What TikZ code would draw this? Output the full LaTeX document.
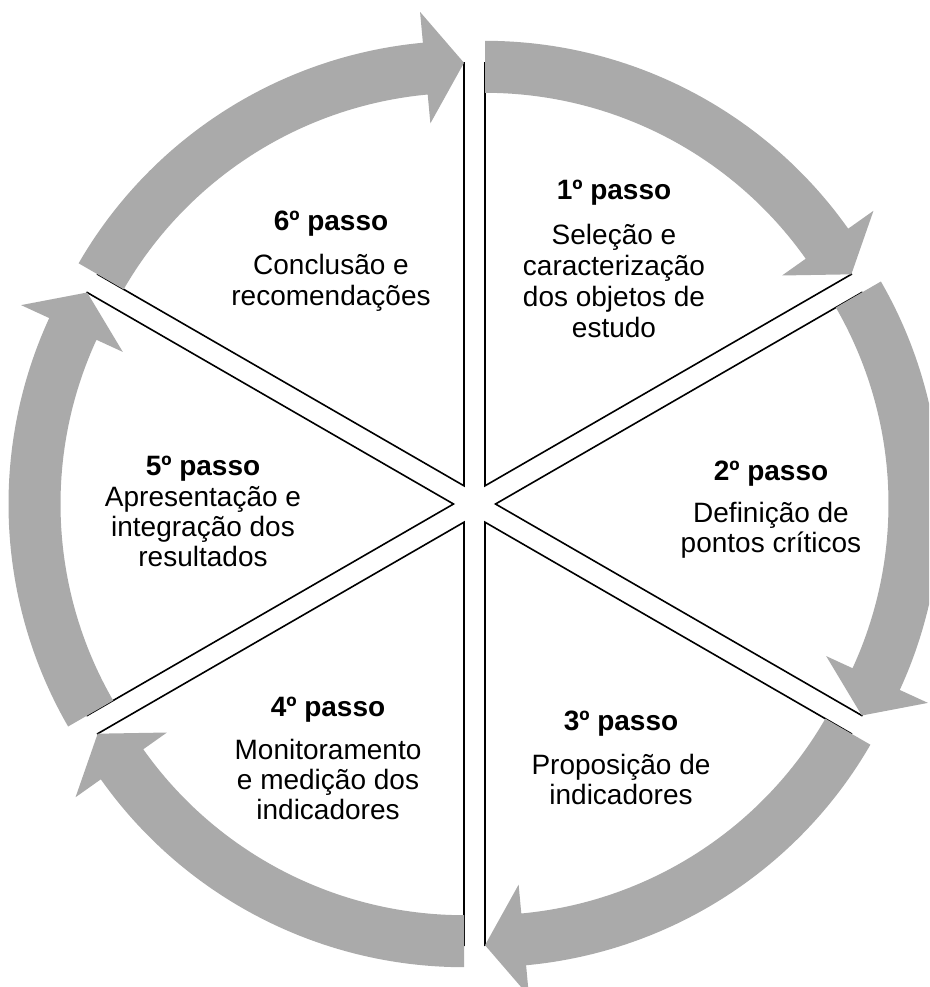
\documentclass[tikz,border=0pt]{standalone}
\usepackage{fontspec}
\setmainfont{Liberation Sans}
\usetikzlibrary{calc}
\definecolor{bandgray}{RGB}{170,170,170}
\begin{document}
\begin{tikzpicture}[x=1pt,y=1pt,
  wedge/.style={draw=black, line width=1.6pt, fill=white, line join=miter},
  band/.style={fill=bandgray},
  head/.style={font=\bfseries\fontsize{28}{30}\selectfont, anchor=base, inner sep=0pt},
  body/.style={font=\fontsize{28}{30}\selectfont, anchor=base, inner sep=0pt}]
\useasboundingbox (0,0) rectangle (929,-987);
\clip (0,0) rectangle (929,-987);
\coordinate (C) at (474.5,-504);
\foreach \k/\ph in {1/60,2/0,3/-60,4/-120,5/180,6/120} {
  \pgfmathsetmacro\ts{\ph+30}
  \pgfmathsetmacro\te{\ph-30}
  \pgfmathsetmacro\tb{\ph-30+5.3}
  \coordinate (A\k) at ($(C)+(\ph:21pt)$);
  \draw[wedge, shift={(A\k)}] (0,0) -- (\ts:423pt) arc[start angle=\ts, end angle=\te, radius=423pt] -- cycle;
  \fill[band, shift={(A\k)}] (\ts:393pt) -- (\ts:445pt) arc[start angle=\ts, end angle=\tb, radius=445pt]
     -- (\tb:476pt) -- (\te:423pt) -- (\tb:364pt) -- (\tb:393pt)
     arc[start angle=\tb, end angle=\ts, radius=393pt] -- cycle;
}
% sector 1
\node[head] (h1) at (614,-200) {1º passo};
\node[body] (b1a) at (614,-244) {Seleção e};
\node[body] (b1b) at (614,-275) {caracterização};
\node[body] (b1c) at (614,-306) {dos objetos de};
\node[body] (b1d) at (614,-337) {estudo};
% sector 2
\node[head] (h2) at (771,-480) {2º passo};
\node[body] (b2a) at (771,-522) {Definição de};
\node[body] (b2b) at (771,-552) {pontos críticos};
% sector 3
\node[head] (h3) at (621,-730) {3º passo};
\node[body] (b3a) at (621,-774) {Proposição de};
\node[body] (b3b) at (621,-804) {indicadores};
% sector 4
\node[head] (h4) at (328,-716) {4º passo};
\node[body] (b4a) at (328,-759) {Monitoramento};
\node[body] (b4b) at (328,-789) {e medição dos};
\node[body] (b4c) at (328,-819) {indicadores};
% sector 5
\node[head] (h5) at (203,-475) {5º passo};
\node[body] (b5a) at (203,-506) {Apresentação e};
\node[body] (b5b) at (203,-536) {integração dos};
\node[body] (b5c) at (203,-566) {resultados};
% sector 6
\node[head] (h6) at (331,-230) {6º passo};
\node[body] (b6a) at (331,-274) {Conclusão e};
\node[body] (b6b) at (331,-305) {recomendações};
\end{tikzpicture}
\end{document}
